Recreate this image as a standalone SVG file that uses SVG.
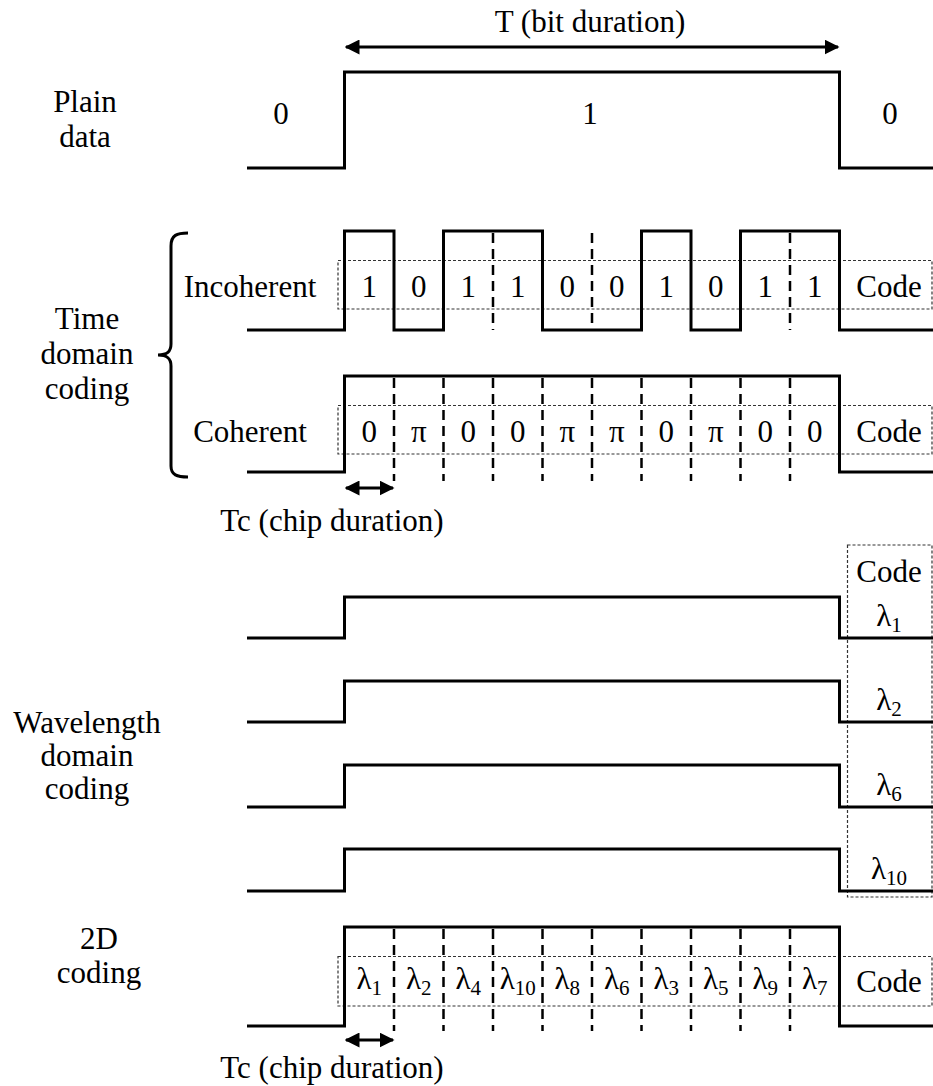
<svg xmlns="http://www.w3.org/2000/svg" width="933" height="1086" viewBox="0 0 933 1086">
<defs>
<style>
text{font-family:"Liberation Serif","Times New Roman",serif;font-size:31px;fill:#000;text-anchor:middle}
.sub{font-size:21px}
.wave{fill:none;stroke:#000;stroke-width:3;stroke-linejoin:miter}
.chip{stroke:#000;stroke-width:2.5;stroke-dasharray:10,6}
.box{fill:none;stroke:#333;stroke-width:1.2;stroke-dasharray:3,2}
.arr{stroke:#000;stroke-width:3}
</style>
<marker id="ah" viewBox="0 0 10 10" refX="9" refY="5" markerWidth="5" markerHeight="5" orient="auto-start-reverse" markerUnits="strokeWidth">
<path d="M0,0 L10,5 L0,10 z" fill="#000"/>
</marker>
</defs>
<rect width="933" height="1086" fill="#fff"/>

<g id="plain-data">
<text x="85" y="112">Plain</text>
<text x="85" y="147">data</text>
<path class="wave" d="M247,168 H344.5 V72 H839.5 V168 H933"/>
<text x="281" y="124">0</text>
<text x="590" y="124">1</text>
<text x="890" y="124">0</text>
<text x="590" y="32">T (bit duration)</text>
</g>

<g id="time-domain">
<text x="87" y="329">Time</text>
<text x="87" y="364">domain</text>
<text x="87" y="399">coding</text>
<path class="wave" d="M188,233 C177,233 171,235 171,246 L171,344 C171,352 167,355 158,355 C167,355 171,358 171,366 L171,466 C171,475 177,477 188,477"/>
</g>

<g id="incoherent">
<text x="250" y="297">Incoherent</text>
<rect class="box" x="338" y="260.5" width="594" height="48.5"/>
<path class="wave" d="M247,330 H344.5 V231 H394 V330 H443.5 V231 H542.5 V330 H641.5 V231 H691 V330 H740.5 V231 H839.5 V330 H933"/>
<line class="chip" x1="493" y1="233" x2="493" y2="330"/>
<line class="chip" x1="592" y1="233" x2="592" y2="330"/>
<line class="chip" x1="790" y1="233" x2="790" y2="330"/>
<text x="369.25" y="297">1</text>
<text x="418.75" y="297">0</text>
<text x="468.25" y="297">1</text>
<text x="517.75" y="297">1</text>
<text x="567.25" y="297">0</text>
<text x="616.75" y="297">0</text>
<text x="666.25" y="297">1</text>
<text x="715.75" y="297">0</text>
<text x="765.25" y="297">1</text>
<text x="814.75" y="297">1</text>
<text x="889" y="297">Code</text>
</g>

<g id="coherent">
<text x="250" y="442">Coherent</text>
<rect class="box" x="338" y="405.5" width="594" height="48.5"/>
<path class="wave" d="M247,472 H344.5 V376 H839.5 V472 H933"/>
<line class="chip" x1="394" y1="378" x2="394" y2="481"/>
<line class="chip" x1="443.5" y1="378" x2="443.5" y2="481"/>
<line class="chip" x1="493" y1="378" x2="493" y2="481"/>
<line class="chip" x1="542.5" y1="378" x2="542.5" y2="481"/>
<line class="chip" x1="592" y1="378" x2="592" y2="481"/>
<line class="chip" x1="641.5" y1="378" x2="641.5" y2="481"/>
<line class="chip" x1="691" y1="378" x2="691" y2="481"/>
<line class="chip" x1="740.5" y1="378" x2="740.5" y2="481"/>
<line class="chip" x1="790" y1="378" x2="790" y2="481"/>
<text x="369.25" y="442">0</text>
<text x="418.75" y="442">π</text>
<text x="468.25" y="442">0</text>
<text x="517.75" y="442">0</text>
<text x="567.25" y="442">π</text>
<text x="616.75" y="442">π</text>
<text x="666.25" y="442">0</text>
<text x="715.75" y="442">π</text>
<text x="765.25" y="442">0</text>
<text x="814.75" y="442">0</text>
<text x="889" y="442">Code</text>
<line class="arr" x1="346" y1="488" x2="393" y2="488" marker-start="url(#ah)" marker-end="url(#ah)"/>
<text x="332" y="531">Tc (chip duration)</text>
</g>

<g id="wavelength">
<text x="87" y="733">Wavelength</text>
<text x="87" y="766">domain</text>
<text x="87" y="799">coding</text>
<rect class="box" x="847.5" y="545" width="84.5" height="352"/>
<text x="889" y="582">Code</text>
<path class="wave" d="M247,638 H344.5 V597 H839.5 V638 H933"/>
<path class="wave" d="M247,722 H344.5 V681 H839.5 V722 H933"/>
<path class="wave" d="M247,807 H344.5 V765 H839.5 V807 H933"/>
<path class="wave" d="M247,891 H344.5 V849 H839.5 V891 H933"/>
<text x="889" y="626">λ<tspan class="sub" dy="6">1</tspan></text>
<text x="889" y="710">λ<tspan class="sub" dy="6">2</tspan></text>
<text x="889" y="795">λ<tspan class="sub" dy="6">6</tspan></text>
<text x="889" y="879">λ<tspan class="sub" dy="6">10</tspan></text>
</g>

<g id="two-d">
<text x="99" y="949">2D</text>
<text x="99" y="983">coding</text>
<rect class="box" x="338" y="956.5" width="594" height="49.5"/>
<path class="wave" d="M247,1026 H344.5 V927 H839.5 V1026 H933"/>
<line class="chip" x1="394" y1="929" x2="394" y2="1031"/>
<line class="chip" x1="443.5" y1="929" x2="443.5" y2="1031"/>
<line class="chip" x1="493" y1="929" x2="493" y2="1031"/>
<line class="chip" x1="542.5" y1="929" x2="542.5" y2="1031"/>
<line class="chip" x1="592" y1="929" x2="592" y2="1031"/>
<line class="chip" x1="641.5" y1="929" x2="641.5" y2="1031"/>
<line class="chip" x1="691" y1="929" x2="691" y2="1031"/>
<line class="chip" x1="740.5" y1="929" x2="740.5" y2="1031"/>
<line class="chip" x1="790" y1="929" x2="790" y2="1031"/>
<text x="369.25" y="989">λ<tspan class="sub" dy="6">1</tspan></text>
<text x="418.75" y="989">λ<tspan class="sub" dy="6">2</tspan></text>
<text x="468.25" y="989">λ<tspan class="sub" dy="6">4</tspan></text>
<text x="517.75" y="989">λ<tspan class="sub" dy="6">10</tspan></text>
<text x="567.25" y="989">λ<tspan class="sub" dy="6">8</tspan></text>
<text x="616.75" y="989">λ<tspan class="sub" dy="6">6</tspan></text>
<text x="666.25" y="989">λ<tspan class="sub" dy="6">3</tspan></text>
<text x="715.75" y="989">λ<tspan class="sub" dy="6">5</tspan></text>
<text x="765.25" y="989">λ<tspan class="sub" dy="6">9</tspan></text>
<text x="814.75" y="989">λ<tspan class="sub" dy="6">7</tspan></text>
<text x="889" y="992">Code</text>
<line class="arr" x1="346" y1="1040" x2="393" y2="1040" marker-start="url(#ah)" marker-end="url(#ah)"/>
<text x="332" y="1078">Tc (chip duration)</text>
</g>

<g id="connectors">
<line class="arr" x1="346" y1="47" x2="838" y2="47" marker-start="url(#ah)" marker-end="url(#ah)"/>
</g>
</svg>
